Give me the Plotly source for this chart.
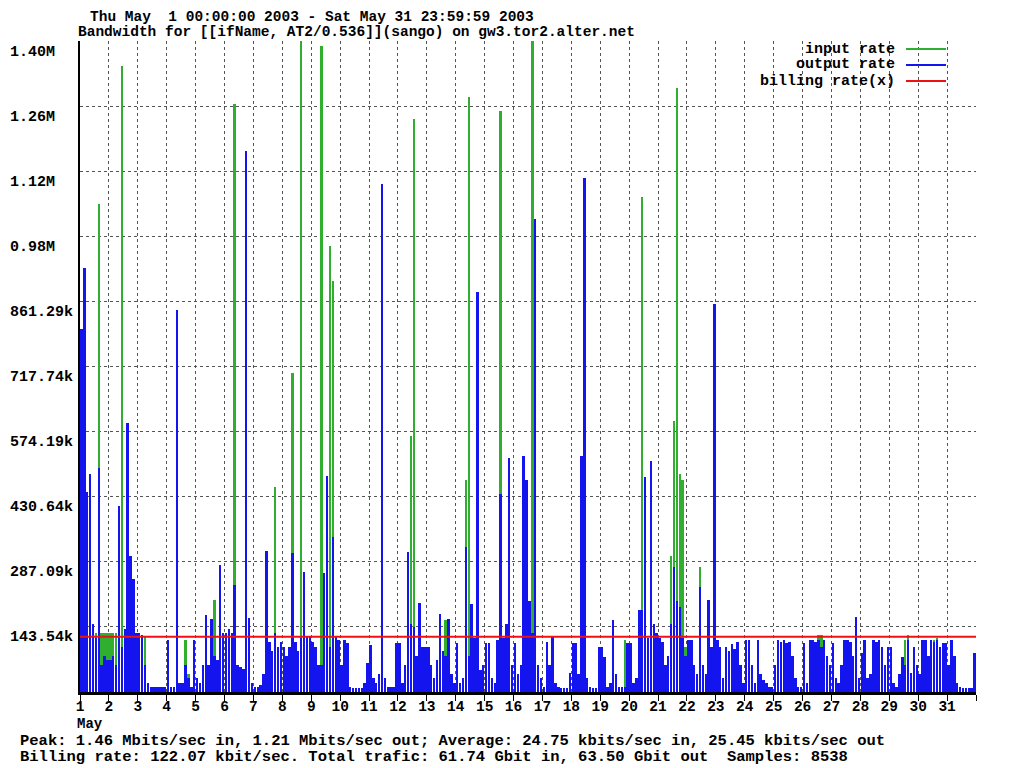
import plotly.graph_objects as go

# ---------------- data (kbit/s), 10 samples per day (2.4 h bins) ----------------
inp_01 = [100, 120, 90, 100, 80, 130, 1075, 130, 130, 130]
out_01 = [800, 935, 440, 480, 150, 120, 493, 60, 80, 70]
inp_02 = [130, 130, 130, 130, 1380, 100, 60, 130, 110, 60]
out_02 = [70, 80, 60, 411, 100, 140, 594, 300, 250, 130]
inp_03 = [60, 121, 121, 10, 8, 8, 8, 8, 8, 8]
out_03 = [130, 125, 60, 20, 10, 10, 10, 10, 10, 10]
inp_04 = [10, 10, 10, 10, 10, 20, 114, 40, 10, 10]
out_04 = [114, 10, 10, 843, 20, 20, 60, 30, 10, 114]
inp_05 = [20, 10, 10, 30, 40, 50, 202, 40, 60, 60]
out_05 = [30, 20, 60, 170, 60, 160, 80, 70, 280, 130]
inp_06 = [60, 60, 100, 1297, 30, 20, 20, 30, 40, 10]
out_06 = [130, 140, 130, 235, 60, 55, 50, 1193, 163, 20]
inp_07 = [8, 8, 8, 10, 30, 60, 40, 451, 60, 60]
out_07 = [10, 10, 15, 40, 312, 110, 90, 130, 100, 110]
inp_08 = [40, 50, 60, 704, 40, 50, 1435, 60, 40, 30]
out_08 = [100, 80, 100, 306, 110, 90, 120, 264, 121, 121]
inp_09 = [30, 30, 30, 1424, 40, 40, 984, 907, 40, 30]
out_09 = [110, 100, 60, 60, 262, 477, 100, 341, 121, 114]
inp_10 = [10, 10, 10, 8, 8, 8, 8, 8, 8, 10]
out_10 = [60, 114, 107, 10, 8, 8, 8, 8, 20, 64]
inp_11 = [10, 10, 10, 10, 12, 10, 8, 8, 8, 10]
out_11 = [103, 30, 20, 40, 1120, 30, 10, 10, 10, 108]
inp_12 = [10, 10, 20, 30, 564, 1264, 40, 30, 20, 10]
out_12 = [108, 20, 60, 308, 150, 143, 80, 196, 99, 99]
inp_13 = [10, 10, 10, 20, 30, 40, 158, 30, 10, 10]
out_13 = [99, 60, 30, 70, 173, 90, 80, 160, 40, 20]
inp_14 = [10, 10, 20, 467, 1312, 60, 40, 20, 10, 10]
out_14 = [108, 20, 30, 319, 80, 195, 120, 881, 48, 60]
inp_15 = [10, 10, 10, 20, 30, 1281, 40, 40, 40, 20]
out_15 = [108, 108, 30, 20, 114, 436, 120, 150, 517, 60]
inp_16 = [10, 10, 20, 40, 40, 60, 1435, 40, 20, 10]
out_16 = [108, 40, 60, 521, 467, 200, 130, 1043, 60, 30]
inp_17 = [10, 10, 10, 10, 10, 8, 8, 8, 8, 8]
out_17 = [10, 110, 60, 121, 20, 10, 8, 8, 8, 42]
inp_18 = [10, 10, 10, 10, 10, 8, 8, 8, 8, 10]
out_18 = [108, 108, 40, 521, 1134, 30, 10, 8, 8, 99]
inp_19 = [10, 10, 8, 8, 10, 10, 8, 8, 114, 10]
out_19 = [99, 77, 10, 20, 158, 40, 10, 10, 10, 108]
inp_20 = [10, 10, 20, 40, 1092, 60, 40, 40, 60, 50]
out_20 = [108, 20, 30, 180, 180, 473, 120, 510, 150, 130]
inp_21 = [40, 30, 20, 40, 300, 598, 1332, 480, 467, 100]
out_21 = [120, 110, 60, 80, 150, 275, 200, 187, 120, 80]
inp_22 = [30, 20, 20, 30, 275, 40, 20, 20, 10, 20]
out_22 = [114, 114, 60, 40, 231, 60, 40, 202, 100, 856]
inp_23 = [20, 20, 10, 20, 30, 40, 40, 20, 10, 10]
out_23 = [114, 100, 30, 100, 90, 105, 95, 110, 60, 20]
inp_24 = [20, 20, 10, 10, 20, 10, 10, 10, 8, 8]
out_24 = [114, 114, 60, 20, 114, 40, 26, 20, 10, 10]
inp_25 = [10, 20, 20, 20, 20, 20, 10, 10, 8, 8]
out_25 = [60, 114, 110, 114, 108, 110, 80, 30, 10, 10]
inp_26 = [10, 10, 30, 40, 60, 125, 125, 40, 20, 10]
out_26 = [108, 20, 114, 114, 110, 114, 100, 114, 80, 60]
inp_27 = [10, 10, 10, 20, 30, 40, 30, 20, 10, 10]
out_27 = [108, 30, 20, 60, 114, 114, 110, 80, 165, 30]
inp_28 = [10, 20, 10, 10, 20, 40, 30, 20, 10, 10]
out_28 = [86, 114, 30, 40, 114, 110, 114, 100, 60, 99]
inp_29 = [10, 10, 8, 10, 20, 114, 125, 20, 10, 10]
out_29 = [99, 20, 10, 40, 77, 60, 114, 42, 99, 60]
inp_30 = [10, 20, 20, 10, 60, 114, 120, 60, 20, 10]
out_30 = [40, 114, 114, 80, 114, 110, 114, 100, 108, 108]
inp_31 = [10, 20, 10, 8, 8, 8, 8, 8, 8, 8]
out_31 = [60, 114, 80, 20, 10, 9, 9, 9, 9, 86]

input_days = [inp_01, inp_02, inp_03, inp_04, inp_05, inp_06, inp_07, inp_08, inp_09, inp_10,
              inp_11, inp_12, inp_13, inp_14, inp_15, inp_16, inp_17, inp_18, inp_19, inp_20,
              inp_21, inp_22, inp_23, inp_24, inp_25, inp_26, inp_27, inp_28, inp_29, inp_30, inp_31]
output_days = [out_01, out_02, out_03, out_04, out_05, out_06, out_07, out_08, out_09, out_10,
               out_11, out_12, out_13, out_14, out_15, out_16, out_17, out_18, out_19, out_20,
               out_21, out_22, out_23, out_24, out_25, out_26, out_27, out_28, out_29, out_30, out_31]

billing_rate = 122.07
day_labels = [str(d) for d in range(1, 32)]
y_tick_values = [143.54, 287.09, 430.64, 574.19, 717.74, 861.29, 1004.83, 1148.38, 1291.93, 1435.48]
y_tick_labels = ["143.54k", "287.09k", "430.64k", "574.19k", "717.74k", "861.29k",
                 "0.98M", "1.12M", "1.26M", "1.40M"]
title_lines = ["Thu May  1 00:00:00 2003 - Sat May 31 23:59:59 2003",
               "Bandwidth for [[ifName, AT2/0.536]](sango) on gw3.tor2.alter.net"]
footer_lines = ["Peak: 1.46 Mbits/sec in, 1.21 Mbits/sec out; Average: 24.75 kbits/sec in, 25.45 kbits/sec out",
                "Billing rate: 122.07 kbit/sec. Total trafic: 61.74 Gbit in, 63.50 Gbit out  Samples: 8538"]
legend_names = ["input rate", "output rate", "billing rate(x)"]

# ---------------- build series ----------------
bins = 10
xs, yin, yout = [], [], []
for d, (di, do) in enumerate(zip(input_days, output_days), start=1):
    for b in range(bins):
        xs.append(d + (b + 0.5) / bins)
        yin.append(di[b])
        yout.append(do[b])

GREEN = "#2fae2f"
BLUE = "#1414ee"
RED = "#ee1111"
FONT = "Liberation Mono"

# geometry in page pixels; the page body adds an 8px offset
OFF = 8
W, H = 1018, 768
L, R, T, B = 80, 976, 41, 692


def px(x):
    return (x - L) / (R - L)


def py(y):
    return (B - y) / (B - T)


fig = go.Figure()
fig.add_trace(go.Bar(x=xs, y=yin, width=0.085, marker=dict(color=GREEN, line=dict(width=0)),
                     name=legend_names[0], showlegend=False))
fig.add_trace(go.Bar(x=xs, y=yout, width=0.085, marker=dict(color=BLUE, line=dict(width=0)),
                     name=legend_names[1], showlegend=False))
fig.add_trace(go.Scatter(x=[1, 32], y=[billing_rate, billing_rate], mode="lines",
                         line=dict(color=RED, width=2), name=legend_names[2], showlegend=False))

annotations = []
f_lab = dict(family=FONT, size=15, color="black", weight="bold")
f_txt = dict(family=FONT, size=14.5, color="black", weight="bold")
f_foot = dict(family=FONT, size=15.5, color="black", weight="bold")
for v, lab in zip(y_tick_values, y_tick_labels):
    annotations.append(dict(x=px(10), y=v, xref="paper", yref="y", text=lab, showarrow=False,
                            xanchor="left", yanchor="middle", yshift=-11, font=f_lab,
                            borderpad=0, borderwidth=0))


def txt(x, y, s, anchor="left", font=f_txt):
    annotations.append(dict(x=px(x), y=py(y), xref="paper", yref="paper",
                            text=s.replace(" ", "&nbsp;"), showarrow=False,
                            xanchor=anchor, yanchor="middle", font=font,
                            borderpad=0, borderwidth=0))


txt(90, 17, title_lines[0])
txt(78, 32, title_lines[1])
txt(20, 741, footer_lines[0], font=f_foot)
txt(20, 757, footer_lines[1], font=f_foot)
txt(77, 724, "May", font=dict(family=FONT, size=14, color="black", weight="bold"))

shapes = []
leg_colors = [GREEN, BLUE, RED]
for i, (name, col) in enumerate(zip(legend_names, leg_colors)):
    yy = 49 + 16 * i
    txt(895, yy, name, anchor="right", font=f_lab)
    shapes.append(dict(type="line", xref="paper", yref="paper", x0=px(906), x1=px(946),
                       y0=py(yy), y1=py(yy), line=dict(color=col, width=2)))

grid = dict(showgrid=True, gridcolor="#555555", griddash="dot", gridwidth=1)

fig.update_layout(
    width=W - OFF, height=H - OFF,
    margin=dict(l=L - OFF, r=W - R, t=T - OFF, b=H - B),
    paper_bgcolor="white", plot_bgcolor="white",
    barmode="overlay", bargap=0,
    showlegend=False,
    annotations=annotations, shapes=shapes,
    xaxis=dict(range=[1, 32], tickvals=list(range(1, 33)), ticktext=day_labels + [""],
               ticks="outside", ticklen=6, tickwidth=1, tickcolor="black",
               ticklabelstandoff=-7,
               showline=True, linecolor="black", linewidth=3, zeroline=False,
               tickfont=dict(family=FONT, size=14.5, color="black", weight="bold"), **grid),
    yaxis=dict(range=[0, 1435.48], tickvals=y_tick_values, showticklabels=False, ticks="",
               showline=True, linecolor="black", linewidth=2, zeroline=False, **grid),
)

fig.write_html("out.html")
